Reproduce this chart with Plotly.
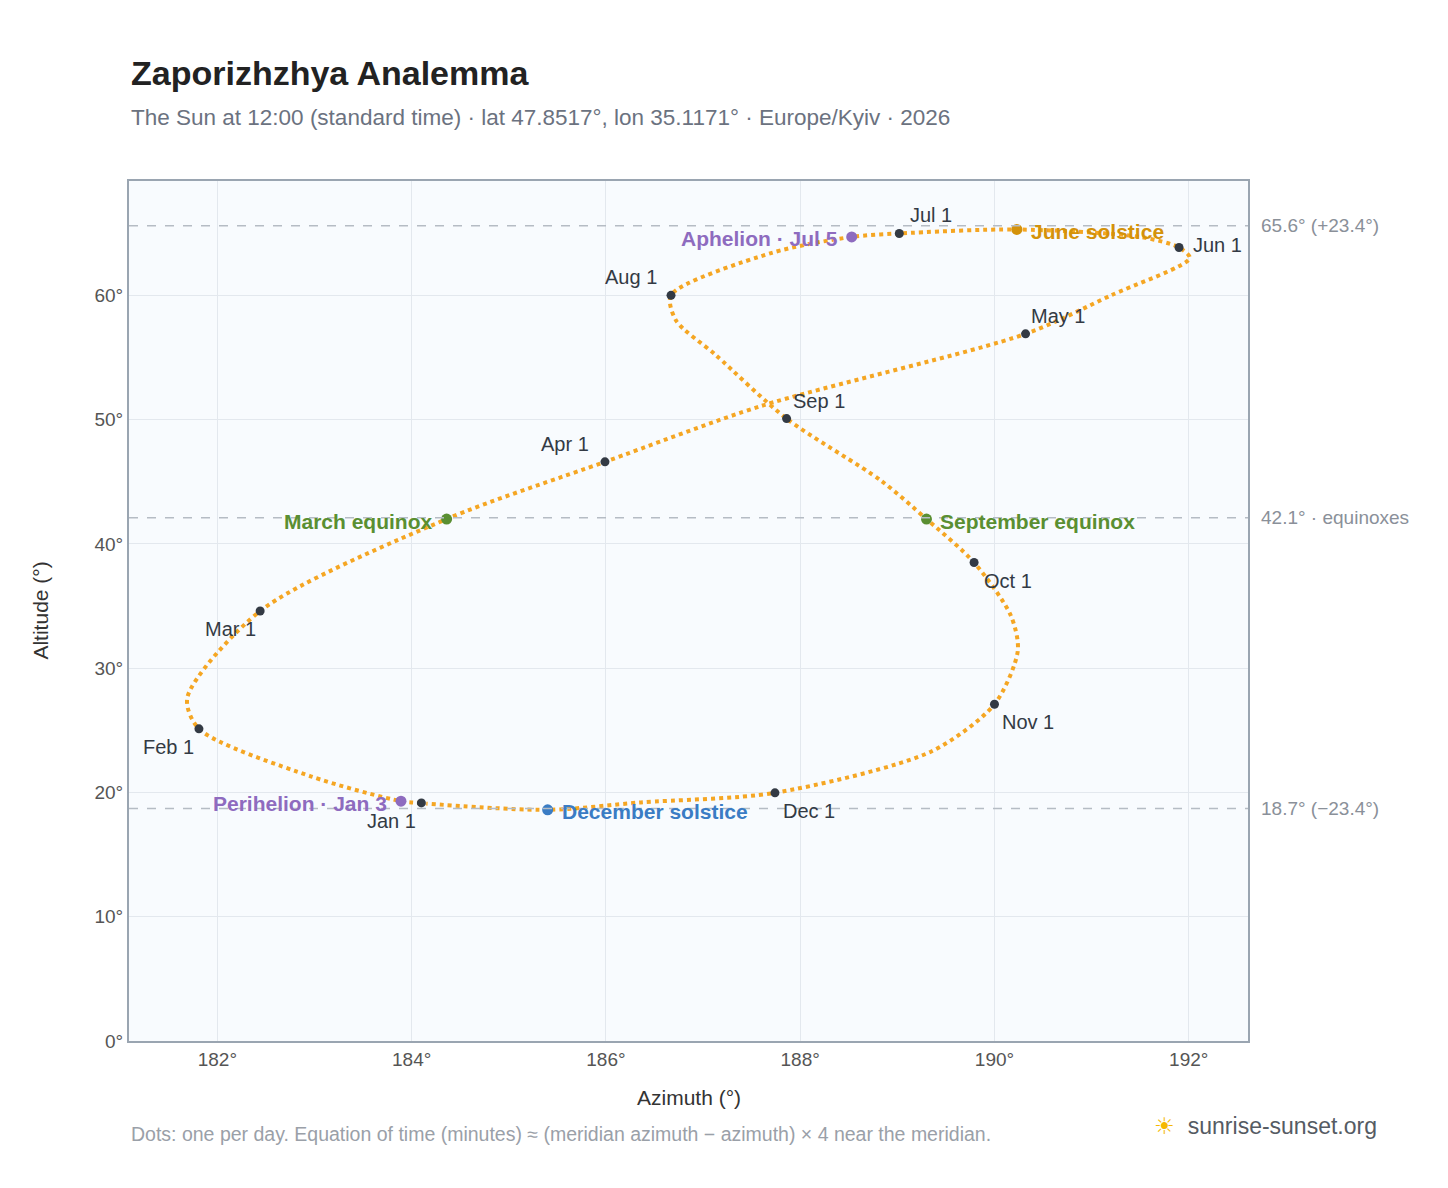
import plotly.graph_objects as go

# Sun position at 12:00, sampled along the year (azimuth deg, altitude deg)
path_az = [184.10, 183.89, 182.96, 181.81, 181.69, 182.44, 184.36, 185.99, 187.60,
           190.32, 191.20, 192.01, 191.90, 191.50, 190.23, 189.02, 188.53, 187.70,
           186.67, 186.72, 187.13, 187.86, 188.83, 189.30, 189.79, 190.17, 190.24, 190.00,
           189.35, 187.74, 186.36, 185.40, 184.15]
path_alt = [19.16, 19.30, 21.30, 25.12, 27.60, 34.60, 42.00, 46.60, 51.10,
            56.90, 60.00, 63.00, 63.85, 64.70, 65.30, 64.98, 64.70, 63.40,
            60.00, 58.00, 55.20, 50.08, 45.10, 42.00, 38.50, 34.20, 31.40, 27.10,
            23.30, 19.97, 19.20, 18.60, 19.10]

months = ["Jan 1", "Feb 1", "Mar 1", "Apr 1", "May 1", "Jun 1",
          "Jul 1", "Aug 1", "Sep 1", "Oct 1", "Nov 1", "Dec 1"]
month_az = [184.10, 181.81, 182.44, 185.99, 190.32, 191.90,
            189.02, 186.67, 187.86, 189.79, 190.00, 187.74]
month_alt = [19.16, 25.12, 34.60, 46.60, 56.90, 63.85,
             64.98, 60.00, 50.08, 38.50, 27.10, 19.97]
month_pos = ["bl", "bl", "bl", "al", "ar", "r", "ar", "al", "ar", "br", "br", "br"]

events = ["Perihelion · Jan 3", "Aphelion · Jul 5", "June solstice",
          "December solstice", "March equinox", "September equinox"]
event_az = [183.89, 188.53, 190.23, 185.40, 184.36, 189.30]
event_alt = [19.30, 64.70, 65.30, 18.60, 42.00, 42.00]
event_color = ["#8e6bbf", "#8e6bbf", "#d4920a", "#3a7cc4", "#5a8f32", "#5a8f32"]
event_side = ["l", "l", "r", "r", "l", "r"]

ref_alt = [65.6, 42.1, 18.7]
ref_labels = ["65.6° (+23.4°)", "42.1° · equinoxes", "18.7° (−23.4°)"]

fig = go.Figure()
fig.add_trace(go.Scatter(x=path_az, y=path_alt, mode="lines",
                         line=dict(color="#f5a623", width=4, dash="dot", shape="spline", smoothing=0.8),
                         hoverinfo="skip"))
fig.add_trace(go.Scatter(x=month_az, y=month_alt, mode="markers",
                         marker=dict(color="#333a44", size=9)))
fig.add_trace(go.Scatter(x=event_az, y=event_alt, mode="markers",
                         marker=dict(color=event_color, size=11)))

offs = {"bl": (-30, -18), "al": (-40, 18), "ar": (32, 18), "r": (38, 2), "br": (34, -18)}
for name, x, y, p in zip(months, month_az, month_alt, month_pos):
    dx, dy = offs[p]
    fig.add_annotation(x=x, y=y, text=name, showarrow=False, xshift=dx, yshift=dy,
                       font=dict(size=20, color="#333a44"))

for name, x, y, c, s in zip(events, event_az, event_alt, event_color, event_side):
    fig.add_annotation(x=x, y=y, text=f"<b>{name}</b>", showarrow=False,
                       xanchor="right" if s == "l" else "left",
                       xshift=-12 if s == "l" else 12, yshift=-2,
                       font=dict(size=21, color=c))

for y, t in zip(ref_alt, ref_labels):
    fig.add_hline(y=y, line=dict(color="#b5bcc4", width=1.5, dash="dash"))
    fig.add_annotation(x=1.01, xref="paper", y=y, text=t, showarrow=False,
                       xanchor="left", font=dict(size=19, color="#8a9099"))

fig.add_annotation(x=0, xref="paper", y=1.1256, yref="paper", yanchor="middle", xanchor="left",
                   text="<b>Zaporizhzhya Analemma</b>", showarrow=False,
                   font=dict(size=34, color="#222"))
fig.add_annotation(x=0, xref="paper", y=1.0744, yref="paper", yanchor="middle", xanchor="left",
                   text="The Sun at 12:00 (standard time) · lat 47.8517°, lon 35.1171° · Europe/Kyiv · 2026",
                   showarrow=False, font=dict(size=22.5, color="#6b7280"))
fig.add_annotation(x=0, xref="paper", y=-0.108, yref="paper", yanchor="middle", xanchor="left",
                   text="Dots: one per day. Equation of time (minutes) ≈ (meridian azimuth − azimuth) × 4 near the meridian.",
                   showarrow=False, font=dict(size=19.5, color="#9aa0a8"))
fig.add_annotation(x=1.117, xref="paper", y=-0.099, yref="paper", yanchor="middle", xanchor="right",
                   text="<span style='color:#f5b800'>☀</span>  sunrise-sunset.org",
                   showarrow=False, font=dict(size=23, color="#555b63"))
fig.add_annotation(x=0.5, xref="paper", y=-0.066, yref="paper", yanchor="middle",
                   text="Azimuth (°)", showarrow=False, font=dict(size=21, color="#333"))
fig.add_annotation(x=-0.092, xref="paper", y=0.5, yref="paper", textangle=-90,
                   text="Altitude (°)", showarrow=False, font=dict(size=21, color="#333"))

fig.update_layout(
    width=1448, height=1188, showlegend=False,
    margin=dict(l=121, r=208, t=173, b=155),
    paper_bgcolor="white", plot_bgcolor="#f8fbfe",
    font=dict(family="Liberation Sans, Arial, sans-serif", color="#444"),
    xaxis=dict(range=[181.09, 192.61], dtick=2, ticksuffix="°", showgrid=True,
               gridcolor="#e3e8ee", zeroline=False, showline=True, linecolor="#9aa5b1",
               mirror=True, linewidth=2, tickfont=dict(size=19, color="#555")),
    yaxis=dict(range=[0, 69.2], dtick=10, ticksuffix="°", showgrid=True,
               gridcolor="#e3e8ee", zeroline=False, showline=True, linecolor="#9aa5b1",
               mirror=True, linewidth=2, tickfont=dict(size=19, color="#555")),
)

fig.write_html("out.html")
